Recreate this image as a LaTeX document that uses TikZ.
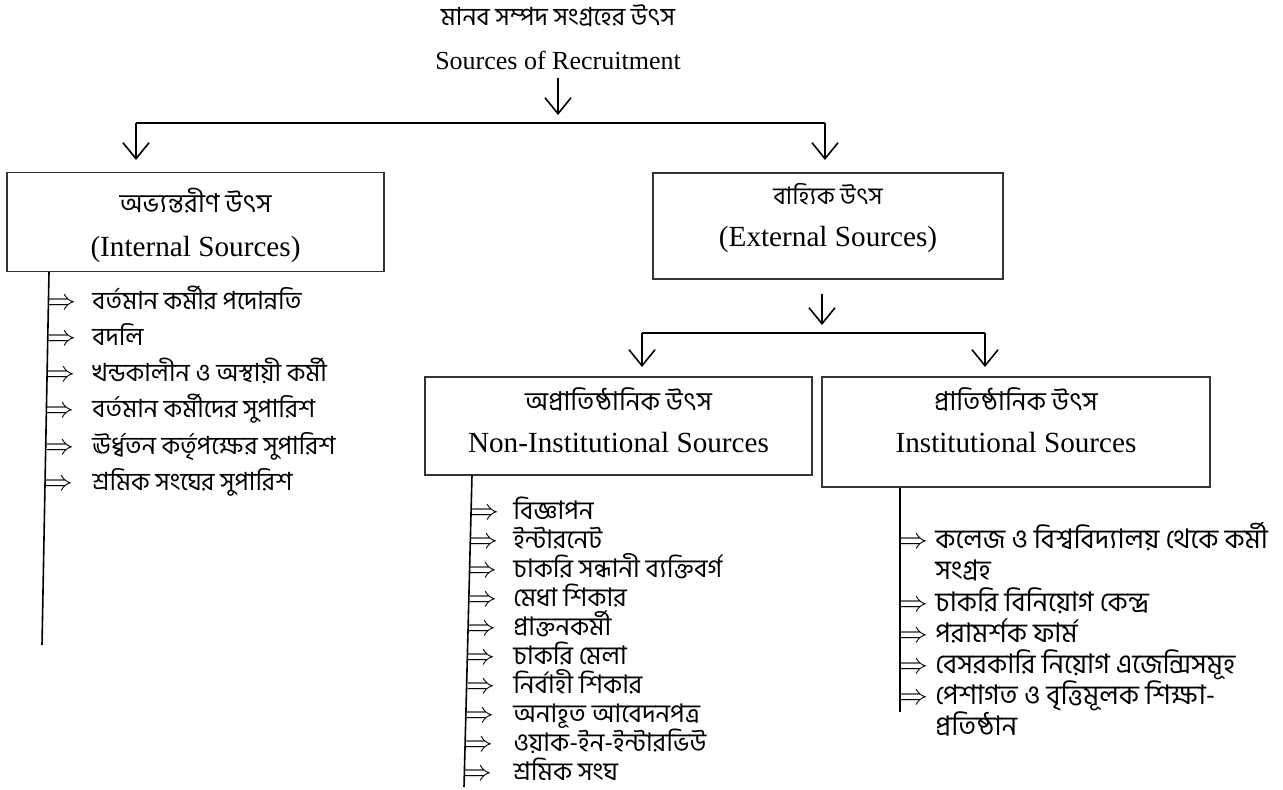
\documentclass[tikz,border=0pt]{standalone}
\usepackage{fontspec}
\setmainfont{Liberation Serif}
\newfontfamily\bn[Script=Bengali]{Hind Siliguri}
\usetikzlibrary{arrows.meta}
\begin{document}
\begin{tikzpicture}[x=0.5pt,y=-0.5pt,
  txt/.style={inner sep=0pt,font=\fontsize{14.6}{20}\selectfont,align=center},
  box/.style={draw=black!80,line width=0.6pt,inner sep=0pt},
  arr/.style={line width=0.8pt,-{Straight Barb[length=8pt,width=13pt,line width=0.8pt]}},
  hline/.style={line width=1.3pt},
  vline/.style={line width=0.8pt},
  dbl/.style={inner sep=0pt,anchor=base west,font=\fontsize{15}{15}\selectfont},
  item/.style={inner sep=0pt,anchor=base west,font=\bn\fontsize{12.5}{15}\selectfont},
  mitem/.style={inner sep=0pt,anchor=base west,font=\bn\fontsize{12.8}{15}\selectfont},
  ritem/.style={inner sep=0pt,anchor=base west,font=\bn\fontsize{13.5}{15}\selectfont},
]
\useasboundingbox (0,0) rectangle (1283,790);
% title
\node[txt] (title) at (558,37) {{\bn\fontsize{12.5}{15}\selectfont মানব সম্পদ সংগ্রহের উৎস}\\[2pt]{\fontsize{13}{15}\selectfont Sources of Recruitment}};
\coordinate (t1) at (558,115);
\coordinate (hL) at (136,123);
\coordinate (hR) at (825,123);
\draw[arr] (558,78) -- (t1);
\draw[hline] (hL) -- (hR);
% boxes
\node[box,minimum width=377*0.5pt,minimum height=99*0.5pt] (intl) at (195.5,222) {};
\node[txt] at (195.5,225) {{\bn\fontsize{13}{15}\selectfont অভ্যন্তরীণ উৎস}\\[2pt](Internal Sources)};
\node[box,minimum width=350*0.5pt,minimum height=106*0.5pt] (extl) at (828,226) {};
\node[txt] at (828,218) {{\bn\fontsize{12}{15}\selectfont বাহ্যিক উৎস}\\[1pt](External Sources)};
\coordinate (a1) at (136,160);
\coordinate (a2) at (825,160);
\draw[arr] (hL) -- (a1);
\draw[arr] (hR) -- (a2);
% external branches
\coordinate (e1) at (822,325);
\coordinate (hL2) at (642,333);
\coordinate (hR2) at (985,333);
\draw[arr] (extl.south -| e1) ++(0,14) -- (e1);
\draw[hline] (hL2) -- (hR2);
\node[box,minimum width=387*0.5pt,minimum height=98*0.5pt] (noninst) at (618.5,426) {};
\node[txt] at (618.5,420) {{\bn\fontsize{13}{15}\selectfont অপ্রাতিষ্ঠানিক উৎস}\\[1pt]Non-Institutional Sources};
\node[box,minimum width=388*0.5pt,minimum height=110*0.5pt] (inst) at (1016,432) {};
\node[txt] at (1016,420) {{\bn\fontsize{13}{15}\selectfont প্রাতিষ্ঠানিক উৎস}\\[1pt]Institutional Sources};
\coordinate (b1) at (642,367);
\coordinate (b2) at (985,367);
\draw[arr] (hL2) -- (b1);
\draw[arr] (hR2) -- (b2);
% internal list
\coordinate (L1) at (49,272);
\coordinate (L2) at (42,645);
\draw[vline] (L1) -- (L2);
\foreach \y/\t [count=\i] in {302/বর্তমান কর্মীর পদোন্নতি,338/বদলি,374/খন্ডকালীন ও অস্থায়ী কর্মী,410/বর্তমান কর্মীদের সুপারিশ,446/ঊর্ধ্বতন কর্তৃপক্ষের সুপারিশ,482/শ্রমিক সংঘের সুপারিশ}{
  \pgfmathsetmacro\xx{49-7*(\y-272)/373}
  \node[dbl] (ia\i) at (\xx-1,\y+8) {$\Rightarrow$};
  \node[item] (it\i) at (92,\y+8) {\t};
}
% non-institutional list
\coordinate (M1) at (472,475);
\coordinate (M2) at (464,787);
\draw[vline] (M1) -- (M2);
\foreach \y/\t [count=\i] in {511/বিজ্ঞাপন,540/ইন্টারনেট,569/চাকরি সন্ধানী ব্যক্তিবর্গ,598/মেধা শিকার,627/প্রাক্তনকর্মী,656/চাকরি মেলা,685/নির্বাহী শিকার,714/অনাহূত আবেদনপত্র,743/ওয়াক-ইন-ইন্টারভিউ,772/শ্রমিক সংঘ}{
  \pgfmathsetmacro\xx{472-8*(\y-475)/312}
  \node[dbl] (na\i) at (\xx-1,\y+8) {$\Rightarrow$};
  \node[mitem] (nt\i) at (513,\y+8) {\t};
}
% institutional list
\coordinate (R1) at (900,488);
\coordinate (R2) at (900,712);
\draw[vline] (R1) -- (R2);
\foreach \y/\t [count=\i] in {540/কলেজ ও বিশ্ববিদ্যালয় থেকে কর্মী,603/চাকরি বিনিয়োগ কেন্দ্র,634/পরামর্শক ফার্ম,665/বেসরকারি নিয়োগ এজেন্সিসমূহ,696/পেশাগত ও বৃত্তিমূলক শিক্ষা-}{
  \node[dbl] (ra\i) at (899,\y+8) {$\Rightarrow$};
  \node[ritem] (rt\i) at (935,\y+8) {\t};
}
\node[ritem] (rc1) at (935,579) {সংগ্রহ};
\node[ritem] (rc2) at (935,735) {প্রতিষ্ঠান};
\end{tikzpicture}
\end{document}
